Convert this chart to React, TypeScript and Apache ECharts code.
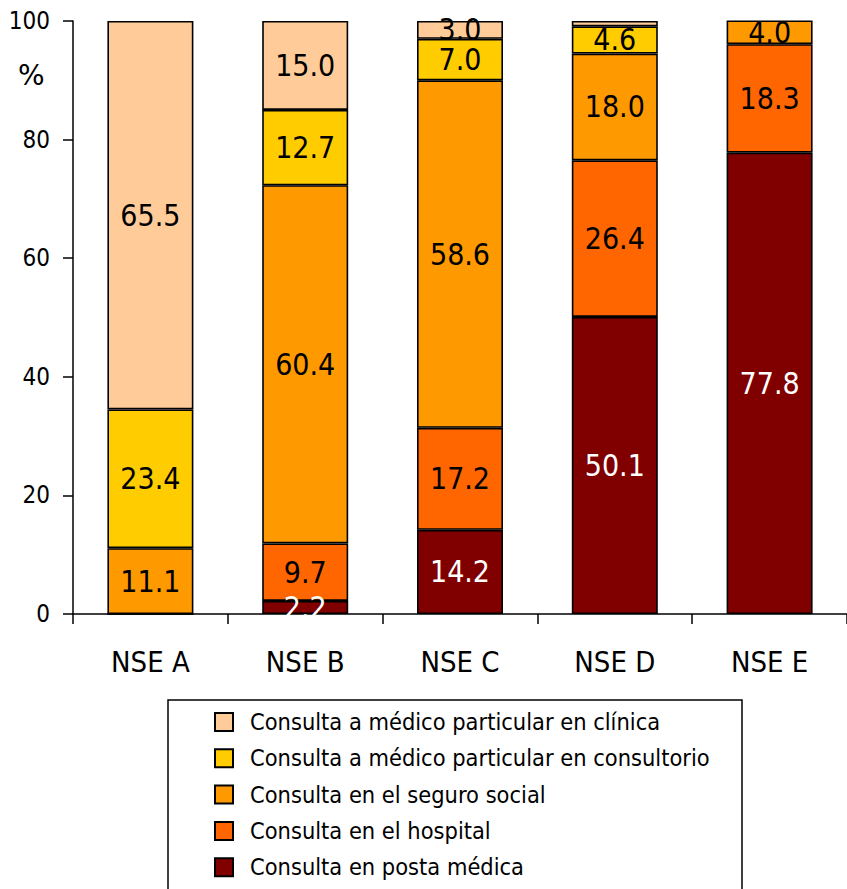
import React, { useEffect, useRef } from "react";
import * as echarts from "echarts";

const categories = ["NSE A", "NSE B", "NSE C", "NSE D", "NSE E"];
const posta = [0, 2.2, 14.2, 50.1, 77.8];
const hospital = [0, 9.7, 17.2, 26.4, 18.3];
const seguro = [11.1, 60.4, 58.6, 18.0, 4.0];
const consultorio = [23.4, 12.7, 7.0, 4.6, 0];
const clinica = [65.5, 15.0, 3.0, 0.9, 0];
const yTicks = [0, 20, 40, 60, 80, 100];

const names = {
  clinica: "Consulta a médico particular en clínica",
  consultorio: "Consulta a médico particular en consultorio",
  seguro: "Consulta en el seguro social",
  hospital: "Consulta en el hospital",
  posta: "Consulta en posta médica",
};

const FONT = "'DejaVu Sans Condensed', 'Liberation Sans Narrow', 'Arial Narrow', sans-serif";

export default function App() {
  const ref = useRef<HTMLDivElement>(null);
  useEffect(() => {
    if (!ref.current) return;
    const chart = echarts.init(ref.current, null, { renderer: "svg" });
    const mk = (name: string, data: number[], color: string, labelColor: string) => ({
      name,
      type: "bar",
      stack: "total",
      data,
      barWidth: 86,
      itemStyle: { color, borderColor: "#000", borderWidth: 1.6 },
      label: {
        show: true,
        position: "inside",
        color: labelColor,
        fontFamily: FONT,
        fontSize: 30,
        formatter: (p: any) => (p.value >= 1 ? Number(p.value).toFixed(1) : ""),
      },
    });
    chart.setOption({
      animation: false,
      grid: { left: 73, top: 21, bottom: 275, right: -6 },
      xAxis: {
        type: "category",
        data: categories,
        axisLine: { lineStyle: { color: "#000", width: 1.5 } },
        axisTick: { show: true, length: 10, lineStyle: { color: "#000", width: 1.5 } },
        axisLabel: { color: "#000", fontFamily: FONT, fontSize: 29, margin: 33 },
      },
      yAxis: {
        type: "value",
        min: 0,
        max: 100,
        interval: 20,
        splitLine: { show: false },
        axisLine: { show: true, lineStyle: { color: "#000", width: 1.5 } },
        axisTick: { show: true, length: 10, lineStyle: { color: "#000", width: 1.5 } },
        axisLabel: {
          color: "#000",
          fontFamily: FONT,
          fontSize: 24,
          margin: 23,
          formatter: (v: number) => (yTicks.includes(v) ? String(v) : ""),
        },
      },
      legend: {
        orient: "vertical",
        left: 209,
        top: 704,
        height: 200,
        itemWidth: 18,
        itemHeight: 18,
        itemGap: 10.3,
        icon: "rect",
        data: [names.clinica, names.consultorio, names.seguro, names.hospital, names.posta],
        textStyle: {
          color: "#000",
          fontFamily: FONT,
          fontSize: 23.4,
          lineHeight: 26,
          padding: [0, 0, 0, 12],
        },
      },
      graphic: [
        {
          type: "rect",
          shape: { x: 168, y: 700, width: 574, height: 240 },
          style: { fill: "none", stroke: "#000", lineWidth: 1.5 },
        },
        {
          type: "text",
          left: 18,
          top: 61,
          style: { text: "%", fontFamily: "'DejaVu Sans', sans-serif", fontSize: 28, fill: "#000" },
        },
      ],
      series: [
        mk(names.posta, posta, "#800000", "#fff"),
        mk(names.hospital, hospital, "#FF6600", "#000"),
        mk(names.seguro, seguro, "#FF9900", "#000"),
        mk(names.consultorio, consultorio, "#FFCC00", "#000"),
        mk(names.clinica, clinica, "#FFCC99", "#000"),
      ],
    });
    return () => chart.dispose();
  }, []);
  return (
    <div
      ref={ref}
      style={{ position: "absolute", left: 0, top: 0, width: 847, height: 889, background: "#fff" }}
    />
  );
}
